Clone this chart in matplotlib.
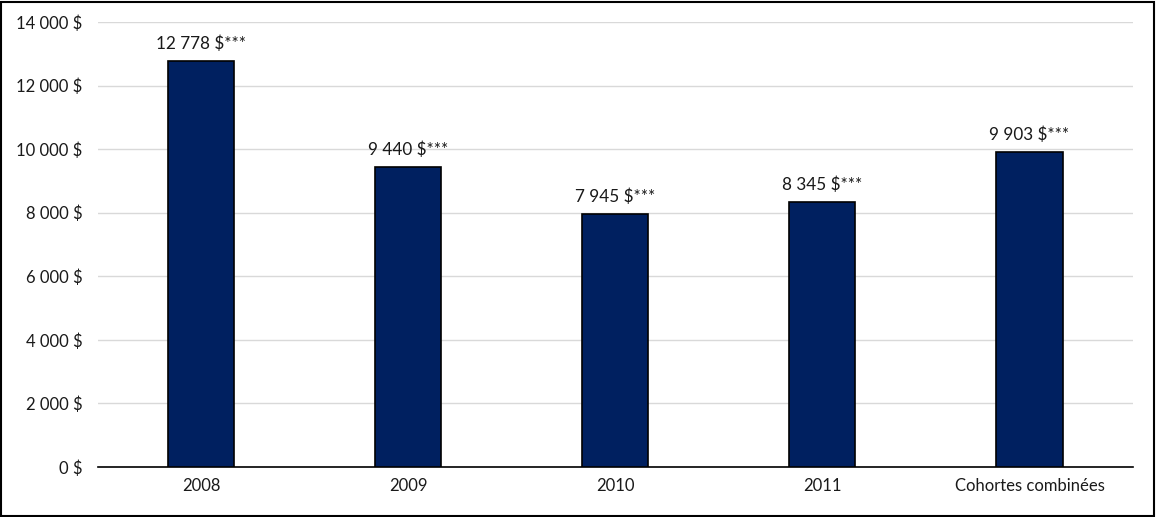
import matplotlib
matplotlib.use("Agg")
import matplotlib.pyplot as plt
from matplotlib.patches import Rectangle

categories = ["2008", "2009", "2010", "2011", "Cohortes combinées"]
values = [12778, 9440, 7945, 8345, 9903]
labels = ["12 778 $***", "9 440 $***", "7 945 $***", "8 345 $***", "9 903 $***"]
yticks = [0, 2000, 4000, 6000, 8000, 10000, 12000, 14000]
ytick_labels = ["0 $", "2 000 $", "4 000 $", "6 000 $", "8 000 $", "10 000 $", "12 000 $", "14 000 $"]

plt.rcParams['font.family'] = ['Lato', 'DejaVu Sans']

fig = plt.figure(figsize=(11.56, 5.17), dpi=100)
ax = fig.add_axes([97.5/1156, (517-467)/517, (1133-97.5)/1156, (467-22)/517])

x = list(range(len(categories)))
ax.bar(x, values, width=0.32, color="#002060", edgecolor="black", linewidth=1.2, zorder=3)
for xi, v, lab in zip(x, values, labels):
    ax.annotate(lab, (xi, v), xytext=(0, 6.5), textcoords="offset points",
                ha="center", va="bottom", fontsize=12.3, color="#1a1a1a")

ax.set_xlim(-0.5, len(categories) - 0.5)
ax.set_ylim(0, 14000)
ax.set_yticks(yticks)
ax.set_yticklabels(ytick_labels, fontsize=12, color="#1a1a1a")
ax.set_xticks(x)
ax.set_xticklabels(categories, fontsize=12, color="#1a1a1a")
ax.tick_params(axis="y", length=0, pad=11)
ax.tick_params(axis="x", length=0, pad=8)
ax.grid(axis="y", color="#d9d9d9", linewidth=1, zorder=0)
for s in ["top", "right", "left"]:
    ax.spines[s].set_visible(False)
ax.spines["bottom"].set_color("black")
ax.spines["bottom"].set_linewidth(1.2)

fig.patches.append(Rectangle((0.001, 0.002), 0.997, 0.995, transform=fig.transFigure,
                             fill=False, edgecolor="black", linewidth=1.5))

fig.savefig("out.png", dpi=100)
